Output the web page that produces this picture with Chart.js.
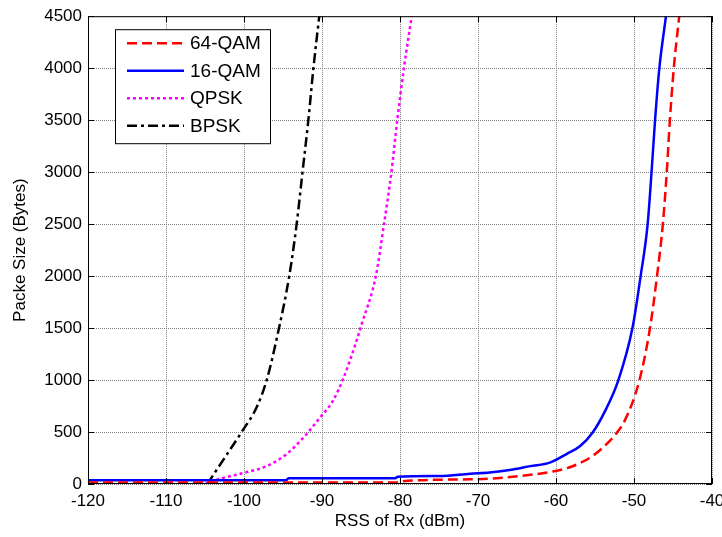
<!DOCTYPE html>
<html>
<head>
<meta charset="utf-8">
<script src="https://cdn.jsdelivr.net/npm/chart.js@4.4.1/dist/chart.umd.min.js"></script>
<style>
  html, body { margin: 0; padding: 0; background: #fff; }
  #wrap { width: 722px; height: 537px; }
</style>
</head>
<body>
<div id="wrap"><canvas id="pktChart" width="722" height="537"></canvas></div>
<script>
// RSS (dBm) vs. packet size (bytes) for each modulation
const rss64 = [-120, -80.2, -79.8, -71.0, -67.6, -64.6, -60.4, -57.8, -55.3, -53.1, -52.2, -51.2, -49.3, -47.95, -47.05, -46.3, -45.8, -45.4, -44.9, -44.2];
const size64 = [15, 15, 25, 45, 55, 77, 120, 173, 270, 415, 494, 607, 1000, 1500, 2000, 2500, 3000, 3500, 4000, 4500];

const rss16 = [-120, -94.6, -94.3, -80.6, -80.3, -74.9, -71.0, -68.5, -65.5, -63.3, -60.8, -58.6, -56.9, -55.3, -53.7, -52.0, -50.2, -49.15, -48.25, -47.75, -47.3, -46.75, -45.9];
const size16 = [35, 35, 55, 55, 70, 77, 99, 110, 140, 172, 205, 290, 365, 495, 703, 1000, 1500, 2000, 2500, 3000, 3500, 4000, 4500];

const rssQpsk = [-105, -103.1, -100.1, -97.0, -94.5, -92.4, -90.3, -88.6, -87.3, -86.0, -84.9, -83.1, -82.05, -81.1, -80.35, -79.5, -78.5];
const sizeQpsk = [0, 50, 105, 175, 290, 445, 635, 800, 1010, 1280, 1540, 2000, 2500, 3000, 3500, 4000, 4500];

const rssBpsk = [-104.7, -102.5, -100.3, -98.3, -97.05, -95.6, -94.2, -93.25, -92.5, -91.75, -91.1, -90.35];
const sizeBpsk = [0, 250, 500, 750, 1010, 1470, 2000, 2500, 3000, 3500, 4000, 4500];

const xTicks = [-120, -110, -100, -90, -80, -70, -60, -50, -40];
const yTicks = [0, 500, 1000, 1500, 2000, 2500, 3000, 3500, 4000, 4500];

const FONT = '"Liberation Sans", Arial, sans-serif';

function toPoints(xs, ys) {
  return xs.map((x, i) => ({ x: x, y: ys[i] }));
}

// MATLAB-like box around the axes with inward tick marks, plus the boxed legend
const axesBox = {
  id: 'axesBox',
  afterDatasetsDraw(chart) {
    const { ctx, chartArea: a, scales } = chart;
    ctx.save();
    ctx.strokeStyle = '#000';
    ctx.lineWidth = 1;
    ctx.setLineDash([]);
    ctx.strokeRect(a.left + 0.5, a.top + 0.5, a.right - a.left - 1, a.bottom - a.top - 1);
    const len = 6;
    ctx.beginPath();
    xTicks.forEach(v => {
      const px = Math.round(scales.x.getPixelForValue(v)) + 0.5;
      ctx.moveTo(px, a.bottom); ctx.lineTo(px, a.bottom - len);
      ctx.moveTo(px, a.top); ctx.lineTo(px, a.top + len);
    });
    yTicks.forEach(v => {
      const py = Math.round(scales.y.getPixelForValue(v)) + 0.5;
      ctx.moveTo(a.left, py); ctx.lineTo(a.left + len, py);
      ctx.moveTo(a.right, py); ctx.lineTo(a.right - len, py);
    });
    ctx.stroke();
    ctx.restore();
  },
  afterDraw(chart) {
    const { ctx, chartArea: a } = chart;
    const bx = a.left + 27, by = a.top + 13, bw = 155, bh = 114;
    ctx.save();
    ctx.fillStyle = '#fff';
    ctx.fillRect(bx, by, bw, bh);
    ctx.strokeStyle = '#000';
    ctx.lineWidth = 1;
    ctx.strokeRect(bx + 0.5, by + 0.5, bw, bh);
    ctx.font = '19px ' + FONT;
    ctx.textBaseline = 'middle';
    ctx.textAlign = 'left';
    chart.data.datasets.forEach((ds, i) => {
      const y = by + 14 + i * 27.5;
      ctx.beginPath();
      ctx.strokeStyle = ds.borderColor;
      ctx.lineWidth = ds.borderWidth;
      ctx.setLineDash(ds.borderDash || []);
      ctx.moveTo(bx + 12, y);
      ctx.lineTo(bx + 69, y);
      ctx.stroke();
      ctx.setLineDash([]);
      ctx.fillStyle = '#000';
      ctx.fillText(ds.label, bx + 75, y + 1);
    });
    ctx.restore();
  }
};

const lineOpts = { pointRadius: 0, fill: false, cubicInterpolationMode: 'monotone', borderWidth: 2.5 };

new Chart(document.getElementById('pktChart').getContext('2d'), {
  type: 'line',
  data: {
    datasets: [
      { label: '64-QAM', data: toPoints(rss64, size64), borderColor: '#ff0000', borderDash: [10, 5], ...lineOpts },
      { label: '16-QAM', data: toPoints(rss16, size16), borderColor: '#0000ff', borderDash: [], ...lineOpts },
      { label: 'QPSK', data: toPoints(rssQpsk, sizeQpsk), borderColor: '#ff00ff', borderDash: [3, 3], ...lineOpts },
      { label: 'BPSK', data: toPoints(rssBpsk, sizeBpsk), borderColor: '#000000', borderDash: [10, 4, 3, 4], ...lineOpts }
    ]
  },
  options: {
    responsive: false,
    animation: false,
    layout: { padding: { top: 16, right: 10, left: 0, bottom: 0 } },
    plugins: { legend: { display: false }, tooltip: { enabled: false } },
    scales: {
      x: {
        type: 'linear',
        min: -120, max: -40,
        afterBuildTicks: s => { s.ticks = xTicks.map(v => ({ value: v })); },
        afterFit: s => { s.height = 53; s.paddingLeft = 0; s.paddingRight = 0; },
        grid: { color: '#808080', lineWidth: 1, drawTicks: false },
        border: { display: false, dash: [1, 1] },
        ticks: { color: '#000', padding: 7, font: { family: FONT, size: 17 }, maxRotation: 0, callback: v => String(v) },
        title: { display: true, text: 'RSS of Rx (dBm)', color: '#000', font: { family: FONT, size: 17 }, padding: { top: 0, bottom: 5 } }
      },
      y: {
        type: 'linear',
        min: 0, max: 4500,
        afterBuildTicks: s => { s.ticks = yTicks.map(v => ({ value: v })); },
        afterFit: s => { s.width = 88; },
        grid: { color: '#808080', lineWidth: 1, drawTicks: false },
        border: { display: false, dash: [1, 1] },
        ticks: { color: '#000', padding: 6, font: { family: FONT, size: 17 }, callback: v => String(v) },
        title: { display: true, text: 'Packe Size (Bytes)', color: '#000', font: { family: FONT, size: 17 }, padding: { top: 10, bottom: 0 } }
      }
    }
  },
  plugins: [axesBox]
});
</script>
</body>
</html>
